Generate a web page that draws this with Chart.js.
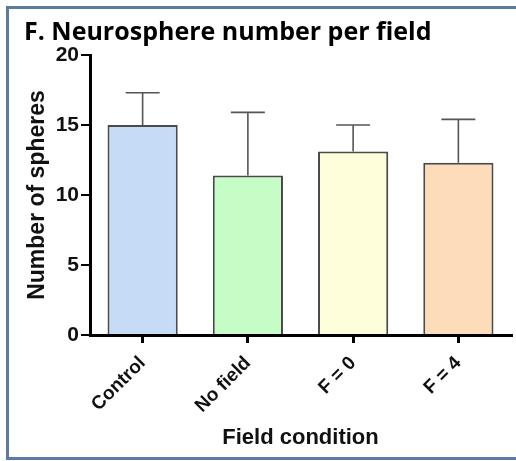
<!DOCTYPE html>
<html>
<head>
<meta charset="utf-8">
<script src="https://cdn.jsdelivr.net/npm/chart.js@4"></script>
<style>
  html, body { margin: 0; padding: 0; background: #fff; }
  #wrap { width: 516px; height: 461px; }
</style>
</head>
<body>
<div id="wrap"><canvas id="chart" width="516" height="461"></canvas></div>
<script>
// data
var conditions = ['Control', 'No field', 'F = 0', 'F = 4'];
var meanSpheres = [15.0, 11.4, 13.1, 12.3];
var upperError = [17.3, 15.9, 15.0, 15.4];
var barColors = ['#c6dbf6', '#c6fcc6', '#fefedb', '#fddcba'];
var yTicks = [0, 5, 10, 15, 20];

var AXIS_FONT = 'Arial, "Liberation Sans", sans-serif';

// blue frame round the panel (no right edge, it is cut off in the figure)
var framePlugin = {
  id: 'frame',
  beforeDraw: function(chart) {
    var c = chart.ctx;
    c.save();
    c.fillStyle = '#fff';
    c.fillRect(0, 0, chart.width, chart.height);
    c.strokeStyle = '#5b7ba3';
    c.lineWidth = 3;
    c.beginPath();
    c.moveTo(chart.width + 2, 7.5);
    c.lineTo(7.5, 7.5);
    c.lineTo(7.5, 458.5);
    c.lineTo(chart.width + 2, 458.5);
    c.stroke();
    c.restore();
  }
};

// upward error bars (mean -> mean + SD)
var errorBarPlugin = {
  id: 'errorBars',
  afterDatasetsDraw: function(chart) {
    var c = chart.ctx;
    var y = chart.scales.y;
    var meta = chart.getDatasetMeta(0);
    c.save();
    c.strokeStyle = '#555';
    c.lineWidth = 1.6;
    for (var i = 0; i < meta.data.length; i++) {
      var x = meta.data[i].x;
      var y0 = y.getPixelForValue(meanSpheres[i]);
      var y1 = y.getPixelForValue(upperError[i]);
      c.beginPath();
      c.moveTo(x, y0);
      c.lineTo(x, y1);
      c.moveTo(x - 17, y1);
      c.lineTo(x + 17, y1);
      c.stroke();
    }
    c.restore();
  }
};

var ctx = document.getElementById('chart').getContext('2d');
var myBarChart = new Chart(ctx, {
  type: 'bar',
  data: {
    labels: conditions,
    datasets: [{
      data: meanSpheres,
      backgroundColor: barColors,
      borderColor: '#4a4a4a',
      borderWidth: 2,
      barPercentage: 0.667,
      categoryPercentage: 1.0
    }]
  },
  options: {
    responsive: false,
    animation: false,
    layout: { padding: { left: 24, right: 5, top: 14, bottom: 10 } },
    plugins: {
      legend: { display: false },
      tooltip: { enabled: false },
      title: {
        display: true,
        text: 'F. Neurosphere number per field',
        align: 'start',
        color: '#000',
        font: { family: '"Open Sans", Lato, sans-serif', size: 25, weight: 'bold' },
        padding: { top: 4, bottom: 7 }
      }
    },
    scales: {
      x: {
        offset: true,
        afterFit: function(scale) { scale.height = 116; },
        border: { display: true, color: '#000', width: 3 },
        grid: { display: true, offset: false, drawOnChartArea: false, drawTicks: true, tickLength: 8, color: '#000', lineWidth: 3 },
        ticks: {
          minRotation: 45, maxRotation: 45, autoSkip: false, padding: 9,
          color: '#111', font: { family: AXIS_FONT, size: 19, weight: 'bold' }
        },
        title: {
          display: true, text: 'Field condition', color: '#111',
          font: { family: AXIS_FONT, size: 22, weight: 'bold' },
          padding: { top: 0, bottom: 0 }
        }
      },
      y: {
        min: 0, max: 20,
        afterFit: function(scale) { scale.width = 66; },
        afterBuildTicks: function(scale) {
          scale.ticks = yTicks.map(function(v) { return { value: v }; });
        },
        border: { display: true, color: '#000', width: 3 },
        grid: { display: true, drawOnChartArea: false, drawTicks: true, tickLength: 9, color: '#000', lineWidth: 2 },
        ticks: {
          padding: 2, color: '#111',
          font: { family: AXIS_FONT, size: 21, weight: 'bold' }
        },
        title: {
          display: true, text: 'Number of spheres', color: '#111',
          font: { family: AXIS_FONT, size: 23, weight: 'bold' },
          padding: { top: 0, bottom: 0 }
        }
      }
    }
  },
  plugins: [framePlugin, errorBarPlugin]
});
</script>
</body>
</html>
